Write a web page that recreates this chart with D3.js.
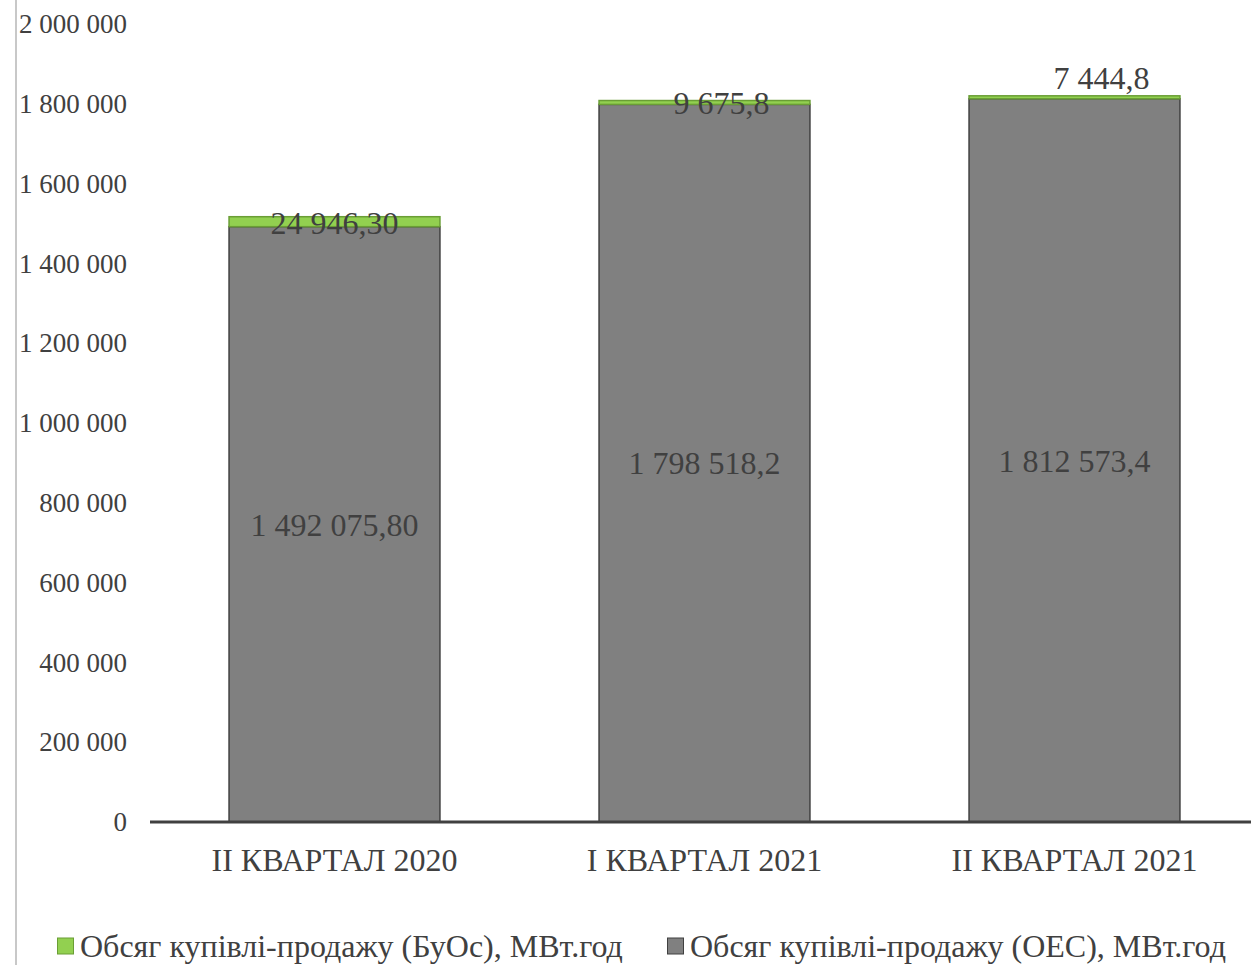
<!DOCTYPE html>
<html><head><meta charset="utf-8">
<script src="https://cdn.jsdelivr.net/npm/d3@7"></script>
<style>body{margin:0;background:#fff}svg{display:block}text{font-family:"Liberation Serif","Times New Roman",serif}</style>
</head><body><svg id="c" width="1251" height="965"></svg>
<script>
const categories = ["II КВАРТАЛ 2020", "I КВАРТАЛ 2021", "II КВАРТАЛ 2021"];
const oesValues = [1492075.80, 1798518.2, 1812573.4];
const buosValues = [24946.30, 9675.8, 7444.8];
const oesLabels = ["1 492 075,80", "1 798 518,2", "1 812 573,4"];
const buosLabels = ["24 946,30", "9 675,8", "7 444,8"];
const yTicks = [0, 200000, 400000, 600000, 800000, 1000000, 1200000, 1400000, 1600000, 1800000, 2000000];
const seriesNames = ["Обсяг купівлі-продажу (БуОс), МВт.год", "Обсяг купівлі-продажу (ОЕС), МВт.год"];

const svg = d3.select("#c");
const W = 1251, H = 965;
const x = d3.scaleBand().domain(categories).range([149.5, 1259.5]).paddingInner(0.43).paddingOuter(0.215);
const y = d3.scaleLinear().domain([0, 2000000]).range([822, 24]);
const fmt = v => d3.format(",")(v).replace(/,/g, " ");

// left frame line
svg.append("line").attr("x1", 16).attr("x2", 16).attr("y1", 0).attr("y2", H)
  .attr("stroke", "#c8c8c8").attr("stroke-width", 2);

// y tick labels
const yAxis = d3.axisLeft(y).tickValues(yTicks).tickFormat(fmt).tickSize(0).tickPadding(0);
const ga = svg.append("g").attr("transform", "translate(127,0)").call(yAxis);
ga.select(".domain").remove();
ga.selectAll("text").attr("font-size", 27).attr("fill", "#404040")
  .attr("font-family", "Liberation Serif").attr("dy", "0.32em");

// bars
const data = categories.map((c, i) => ({c, oes: oesValues[i], buos: buosValues[i], i}));
const g = svg.append("g");
g.selectAll("rect.oes").data(data).join("rect").attr("class", "oes")
  .attr("x", d => x(d.c)).attr("width", x.bandwidth())
  .attr("y", d => y(d.oes)).attr("height", d => y(0) - y(d.oes))
  .attr("fill", "#808080").attr("stroke", "#404040").attr("stroke-width", 1.5);
g.selectAll("rect.buos").data(data).join("rect").attr("class", "buos")
  .attr("x", d => x(d.c)).attr("width", x.bandwidth())
  .attr("y", d => y(d.oes + d.buos)).attr("height", d => y(d.oes) - y(d.oes + d.buos))
  .attr("fill", "#92d050").attr("stroke", "#6a9e35").attr("stroke-width", 1.5);

// baseline
svg.append("line").attr("x1", 150).attr("x2", W).attr("y1", y(0)).attr("y2", y(0))
  .attr("stroke", "#404040").attr("stroke-width", 3);

// data labels
g.selectAll("text.oesl").data(data).join("text").attr("class", "oesl")
  .attr("x", d => x(d.c) + x.bandwidth() / 2)
  .attr("y", d => (y(0) + y(d.oes)) / 2).attr("dy", "0.35em")
  .attr("text-anchor", "middle").attr("font-size", 32).attr("fill", "#404040")
  .text((d, i) => oesLabels[i]);
const buosShiftX = [0, 17, 27];
const buosShiftY = [1, 0.5, -19.5];
g.selectAll("text.buosl").data(data).join("text").attr("class", "buosl")
  .attr("x", (d, i) => x(d.c) + x.bandwidth() / 2 + buosShiftX[i])
  .attr("y", (d, i) => (y(d.oes) + y(d.oes + d.buos)) / 2 + buosShiftY[i]).attr("dy", "0.35em")
  .attr("text-anchor", "middle").attr("font-size", 32).attr("fill", "#404040")
  .text((d, i) => buosLabels[i]);

// x labels
const xAxis = d3.axisBottom(x).tickSize(0).tickPadding(0);
const gx = svg.append("g").attr("transform", "translate(0,860)").call(xAxis);
gx.select(".domain").remove();
gx.selectAll("text").attr("font-size", 32).attr("fill", "#404040")
  .attr("font-family", "Liberation Serif").attr("dy", "0.35em");

// legend
const legColors = [["#92d050", "#6a9e35"], ["#808080", "#404040"]];
const legX = [57, 667];
seriesNames.forEach((n, i) => {
  const lg = svg.append("g").attr("transform", `translate(${legX[i]},946)`);
  lg.append("rect").attr("x", 0.5).attr("y", -8).attr("width", 16).attr("height", 16)
    .attr("fill", legColors[i][0]).attr("stroke", legColors[i][1]).attr("stroke-width", 1);
  lg.append("text").attr("x", 23).attr("y", 0).attr("dy", "0.35em")
    .attr("font-size", 32).attr("fill", "#404040").text(n);
});
</script></body></html>
